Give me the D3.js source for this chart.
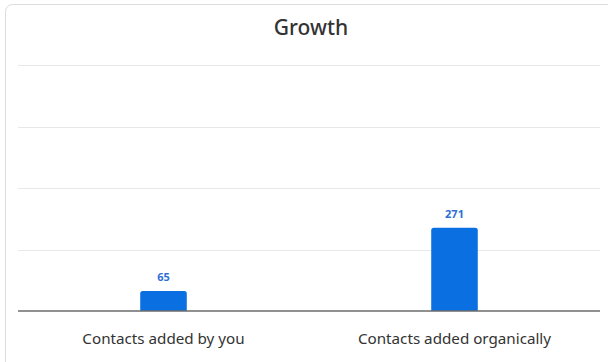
<!DOCTYPE html>
<html>
<head>
<meta charset="utf-8">
<title>Growth</title>
<style>
body { margin:0; background:#fff; font-family: "Noto Sans", "Lato", sans-serif; }
.card { fill:#fff; stroke:#dcdcdc; stroke-width:1px; }
.grid line { stroke:#e8e8e8; stroke-width:1px; }
.baseline { stroke:#6b6b6b; stroke-width:1.5px; }
.title { font-size:21px; font-weight:500; fill:#333; text-anchor:middle; }
.cat { font-size:15.2px; fill:#333; text-anchor:middle; }
.val { font-size:11px; font-weight:bold; fill:#2f6fd6; text-anchor:middle; }
.bar { fill:#0a6fe1; }
</style>
</head>
<body>
<div id="chart"></div>
<script src="https://cdn.jsdelivr.net/npm/d3@7"></script>
<script>
var categories = ["Contacts added by you", "Contacts added organically"];
var values = [65, 271];
var yTicks = [0, 200, 400, 600, 800];

var width = 608, height = 362;
var margin = {top:65, right:8, bottom:51, left:18};

var svg = d3.select("#chart").append("svg")
	.attr("width", width)
	.attr("height", height);

// card background
svg.append("rect")
	.attr("class","card")
	.attr("x",5.5).attr("y",4.5)
	.attr("width",width+20).attr("height",height+20)
	.attr("rx",7).attr("ry",7);

svg.append("text")
	.attr("class","title")
	.attr("x",311).attr("y",35)
	.text("Growth");

var x = d3.scaleBand()
	.domain(categories)
	.range([margin.left, width - margin.right])
	.paddingInner(0.84)
	.paddingOuter(0.42);

var y = d3.scaleLinear()
	.domain([0, 800])
	.range([height - margin.bottom, margin.top]);

svg.append("g")
	.attr("class","grid")
	.selectAll("line")
	.data(yTicks.slice(1))
	.enter().append("line")
	.attr("x1",margin.left).attr("x2",width - margin.right)
	.attr("y1",function(d){ return Math.round(y(d))+0.5; })
	.attr("y2",function(d){ return Math.round(y(d))+0.5; });

// bars with rounded tops
svg.selectAll(".bar")
	.data(values)
	.enter().append("path")
	.attr("class","bar")
	.attr("d",function(d,i){
		var x0 = x(categories[i]), w = x.bandwidth(), y0 = y(0), y1 = y(d), r = 2.5;
		return "M"+x0+","+y0+"L"+x0+","+(y1+r)+"Q"+x0+","+y1+" "+(x0+r)+","+y1+
			"L"+(x0+w-r)+","+y1+"Q"+(x0+w)+","+y1+" "+(x0+w)+","+(y1+r)+"L"+(x0+w)+","+y0+"Z";
	});

svg.selectAll(".val")
	.data(values)
	.enter().append("text")
	.attr("class","val")
	.attr("x",function(d,i){ return x(categories[i]) + x.bandwidth()/2; })
	.attr("y",function(d){ return y(d) - 10; })
	.text(function(d){ return d; });

svg.append("line")
	.attr("class","baseline")
	.attr("x1",margin.left).attr("x2",width - margin.right)
	.attr("y1",y(0)).attr("y2",y(0));

svg.selectAll(".cat")
	.data(categories)
	.enter().append("text")
	.attr("class","cat")
	.attr("x",function(d){ return x(d) + x.bandwidth()/2; })
	.attr("y",y(0) + 33)
	.text(function(d){ return d; });
</script>
</body>
</html>
